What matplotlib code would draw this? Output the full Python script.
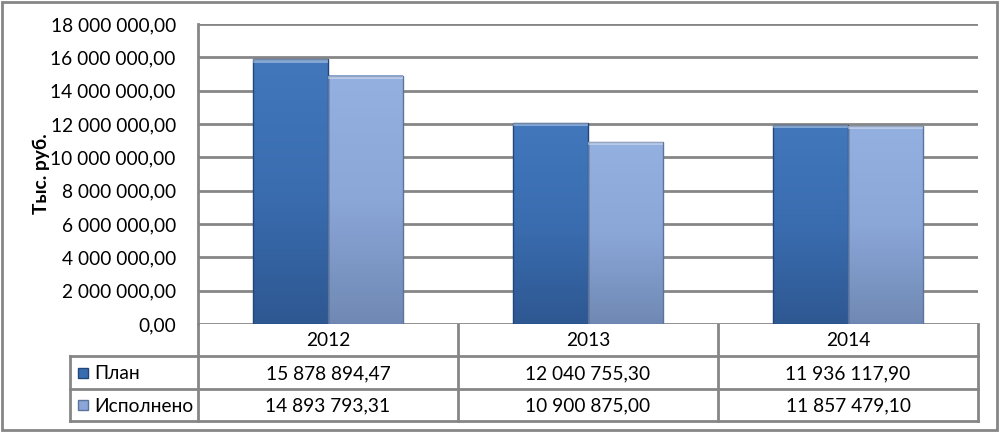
import matplotlib
matplotlib.use("Agg")
from matplotlib import pyplot as plt
from matplotlib.patches import Rectangle
from matplotlib.colors import LinearSegmentedColormap
import numpy as np

years = ["2012", "2013", "2014"]
series_names = ["План", "Исполнено"]
plan = [15878894.47, 12040755.30, 11936117.90]
done = [14893793.31, 10900875.00, 11857479.10]
plan_labels = ["15 878 894,47", "12 040 755,30", "11 936 117,90"]
done_labels = ["14 893 793,31", "10 900 875,00", "11 857 479,10"]
y_ticks = [0, 2e6, 4e6, 6e6, 8e6, 10e6, 12e6, 14e6, 16e6, 18e6]

FONT = "Lato"
FS = 13.8
GRID = "#868686"
W, H = 1000, 433

def fmt(v):
    s = f"{v:,.2f}".replace(",", " ").replace(".", ",")
    return s

def grad_bar(ax, x0, width, height, top, mid, bot, edge):
    cmap = LinearSegmentedColormap.from_list("g", [bot, mid, top])
    g = np.linspace(0, 1, 64).reshape(-1, 1)
    ax.imshow(g, extent=(x0, x0 + width, 0, height), origin="lower",
              cmap=cmap, aspect="auto", zorder=3)
    ax.add_patch(Rectangle((x0, 0), width, height, fill=False,
                           edgecolor=edge, lw=1.0, zorder=4))
    # bevel highlight at top
    ax.add_patch(Rectangle((x0, height * 0.985), width, height * 0.015,
                           facecolor="white", alpha=0.35, lw=0, zorder=4))

fig = plt.figure(figsize=(W / 100, H / 100), dpi=100)
fig.patch.set_facecolor("white")

# overlay axes in pixel coords for border and table
over = fig.add_axes([0, 0, 1, 1])
over.set_xlim(0, W)
over.set_ylim(H, 0)
over.axis("off")
over.add_patch(Rectangle((2, 2), W - 5, H - 5, fill=False, edgecolor=GRID, lw=2))

left, right, top, bottom = 198, 978, 24, 324
ax = fig.add_axes([left / W, (H - bottom) / H, (right - left) / W, (bottom - top) / H])
ax.set_xlim(0, 3)
ax.set_ylim(0, 18e6)
ax.set_yticks(y_ticks)
ax.set_yticklabels([fmt(v) for v in y_ticks], fontsize=FS, family=FONT)
ax.tick_params(axis="y", length=0, pad=16)
ax.set_xticks([])
for sp in ["top", "right", "bottom"]:
    ax.spines[sp].set_visible(False)
ax.spines["left"].set_color(GRID)
ax.spines["left"].set_linewidth(2)
ax.grid(axis="y", color=GRID, lw=2)
ax.set_axisbelow(True)
ax.set_ylabel("Тыс. руб.", fontsize=FS, fontweight="bold", family=FONT)
ax.yaxis.set_label_coords((50 - left) / (right - left), 0.5)

bw = 0.288
for i in range(3):
    grad_bar(ax, i + 0.5 - bw, bw, plan[i], "#4277BC", "#3A6DB0", "#2E5892", "#22467A")
    grad_bar(ax, i + 0.5, bw, done[i], "#93B0E0", "#8BA7D8", "#7089B4", "#5C739C")

# data table
rows_y = [324, 356, 389, 421]
cols_x = [198, 458, 718, 978]
lw = 2
over.plot([70, cols_x[-1]], [rows_y[1], rows_y[1]], color=GRID, lw=lw)
over.plot([70, cols_x[-1]], [rows_y[2], rows_y[2]], color=GRID, lw=lw)
over.plot([70, cols_x[-1]], [rows_y[3], rows_y[3]], color=GRID, lw=lw)
over.plot([70, 70], [rows_y[1], rows_y[3]], color=GRID, lw=lw)
for x in cols_x:
    over.plot([x, x], [rows_y[0], rows_y[3]], color=GRID, lw=lw)

for j, yr in enumerate(years):
    cx = (cols_x[j] + cols_x[j + 1]) / 2
    over.text(cx, (rows_y[0] + rows_y[1]) / 2 + 1, yr, ha="center", va="center",
              fontsize=FS, family=FONT)
    over.text(cx, (rows_y[1] + rows_y[2]) / 2 + 1, plan_labels[j], ha="center",
              va="center", fontsize=FS, family=FONT)
    over.text(cx, (rows_y[2] + rows_y[3]) / 2 + 1, done_labels[j], ha="center",
              va="center", fontsize=FS, family=FONT)

key_colors = [("#3A6DB0", "#22467A"), ("#8BA7D8", "#5C739C")]
for k, name in enumerate(series_names):
    yc = (rows_y[k + 1] + rows_y[k + 2]) / 2
    over.add_patch(Rectangle((78, yc - 5), 10, 10, facecolor=key_colors[k][0],
                             edgecolor=key_colors[k][1], lw=1))
    over.text(94, yc + 1, name, ha="left", va="center", fontsize=FS, family=FONT)

fig.savefig("out.png", dpi=100)
